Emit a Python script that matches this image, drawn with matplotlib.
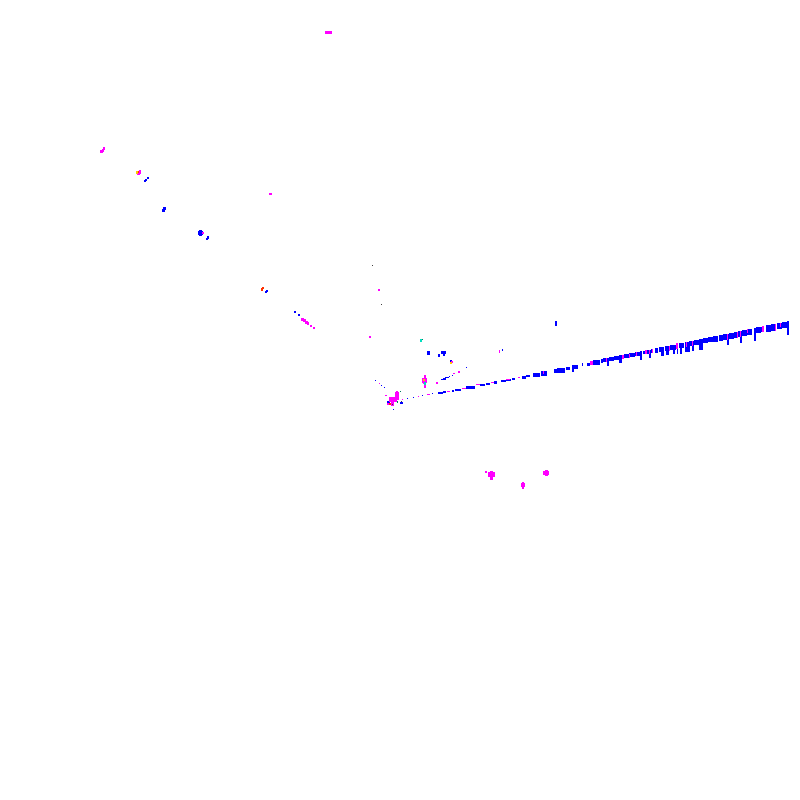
import matplotlib
matplotlib.use("Agg")
import matplotlib.pyplot as plt
import numpy as np

# each block: x_lo, x_hi, y_lo, y_hi
blue_far_streak = [
    (601, 603, 359, 363), (603, 609, 358, 362), (607, 609, 360, 366), (609, 614, 357, 361),
    (614, 619, 356, 360), (619, 622, 355, 363), (624, 629, 354, 358), (629, 635, 353, 357),
    (635, 640, 352, 356), (640, 642, 351, 360), (643, 645, 351, 354), (645, 650, 350, 354),
    (649, 651, 350, 358), (651, 653, 349, 353), (655, 658, 348, 353), (659, 664, 347, 352),
    (661, 664, 350, 356), (665, 670, 346, 351), (666, 669, 350, 355), (670, 676, 345, 350),
    (673, 675, 349, 354), (677, 678, 344, 354), (679, 684, 343, 348), (680, 682, 347, 354),
    (685, 690, 342, 352), (689, 694, 341, 346), (692, 694, 345, 351), (694, 699, 340, 345),
    (699, 703, 339, 350), (703, 708, 338, 343), (708, 713, 337, 342), (713, 718, 336, 342),
    (719, 723, 335, 341), (723, 727, 334, 340), (727, 729, 334, 345), (729, 734, 333, 339),
    (734, 738, 332, 338), (738, 742, 331, 337), (740, 742, 336, 343), (742, 747, 330, 336),
    (747, 752, 329, 335), (754, 756, 328, 341), (756, 761, 327, 333), (761, 764, 327, 332),
    (766, 771, 325, 332), (771, 775, 324, 331), (777, 782, 323, 329), (782, 787, 322, 328),
    (787, 789, 321, 335),
]
blue_near_streak = [
    (407, 408, 398, 399), (413, 414, 397, 398), (422, 423, 395, 396), (432, 433, 393, 394),
    (438, 443, 392, 394), (443, 446, 391, 393), (452, 454, 390, 392), (455, 461, 389, 391),
    (466, 475, 386, 389), (480, 485, 384, 386), (486, 490, 383, 385), (494, 497, 381, 384),
    (501, 506, 380, 382), (506, 511, 379, 381), (512, 515, 378, 380), (522, 526, 376, 379),
    (526, 530, 375, 377), (533, 540, 373, 377), (541, 547, 371, 376), (554, 557, 369, 373),
    (557, 565, 368, 373), (566, 570, 367, 370), (572, 574, 365, 372), (574, 578, 365, 369),
    (582, 583, 363, 366), (587, 590, 363, 366), (593, 600, 360, 365),
]
blue_scattered = [
    (466, 467, 367, 368), (452, 453, 375, 376), (449, 450, 376, 377), (445, 449, 377, 378),
    (443, 446, 378, 380), (441, 443, 379, 380), (425, 426, 387, 388), (375, 376, 380, 381),
    (381, 382, 385, 386), (384, 385, 387, 388), (393, 394, 409, 410), (400, 403, 402, 404),
    (387, 390, 401, 403), (427, 430, 351, 355), (441, 446, 351, 354), (443, 445, 353, 356),
    (438, 440, 354, 357), (450, 452, 360, 362), (502, 503, 349, 351), (555, 557, 321, 326),
    (144, 146, 180, 182), (145, 147, 179, 181), (147, 149, 177, 179), (162, 165, 209, 212),
    (163, 166, 207, 210), (198, 203, 231, 235), (199, 202, 230, 236), (206, 208, 238, 240),
    (207, 209, 236, 239), (265, 267, 291, 293), (266, 268, 290, 292), (294, 296, 311, 313),
    (298, 300, 314, 316), (491, 493, 471, 473),
]
magenta_blocks = [
    # stripes on the far streak
    (606, 607, 358, 362), (622, 624, 355, 359), (629, 630, 354, 358), (636, 637, 352, 356),
    (645, 647, 350, 354), (649, 650, 350, 354), (652, 653, 349, 353), (669, 670, 346, 351),
    (676, 678, 343, 349), (686, 687, 342, 347), (692, 693, 341, 346), (727, 728, 334, 340),
    (737, 738, 332, 338), (740, 741, 331, 337), (747, 748, 329, 333), (762, 764, 326, 332),
    (775, 776, 324, 331), (780, 781, 323, 327),
    # near streak
    (418, 419, 396, 397), (427, 430, 394, 395), (447, 450, 391, 392), (462, 466, 388, 389),
    (476, 480, 384, 385), (491, 494, 382, 383), (506, 510, 379, 380), (518, 520, 377, 378),
    (543, 544, 371, 374), (590, 593, 361, 365),
    # second arm and small dots
    (458, 460, 371, 373), (453, 455, 373, 374), (436, 438, 382, 384), (379, 380, 383, 384),
    (499, 500, 350, 353), (369, 371, 336, 338), (378, 380, 289, 291), (269, 272, 193, 195),
    (325, 332, 31, 34),
    # main knot
    (395, 399, 392, 397), (396, 398, 391, 393), (389, 397, 397, 402), (391, 394, 402, 406),
    (387, 390, 403, 405), (397, 399, 396, 400), (402, 403, 399, 400), (385, 387, 395, 396),
    # knot near 425,380
    (422, 427, 378, 383), (424, 426, 375, 388), (423, 424, 381, 384), (451, 453, 361, 363),
    # bottom clumps
    (485, 487, 471, 473), (488, 495, 472, 477), (490, 493, 471, 480), (521, 525, 483, 487),
    (522, 524, 482, 489), (543, 549, 471, 475), (545, 548, 470, 476),
    # upper left diagonal
    (100, 103, 150, 153), (102, 104, 149, 152), (103, 105, 147, 150), (137, 140, 172, 175),
    (139, 141, 170, 174), (202, 204, 232, 234),
    (301, 304, 318, 321), (303, 306, 319, 322), (305, 308, 321, 324), (307, 309, 322, 325),
    (310, 312, 325, 327), (313, 315, 327, 329),
]
red_blocks = [(261, 263, 288, 291), (262, 264, 287, 289), (136, 139, 171, 173), (389, 391, 403, 405)]
yellow_blocks = [(423, 425, 379, 381), (450, 452, 362, 364), (136, 138, 171, 174)]
cyan_blocks = [(420, 422, 339, 342), (424, 426, 382, 385)]
teal_blocks = [(422, 423, 339, 340), (400, 401, 391, 392), (397, 398, 401, 403)]
black_dots = [(372, 373, 265, 266), (381, 382, 304, 305), (401, 402, 401, 402), (392, 393, 404, 405)]


def draw_blocks(ax, blocks, color):
    x_lo, x_hi, y_lo, y_hi = np.array(blocks, dtype=float).T
    ax.bar(x_lo, y_hi - y_lo, width=x_hi - x_lo, bottom=y_lo, align="edge",
           color=color, linewidth=0, antialiased=False)


fig = plt.figure(figsize=(8, 8), dpi=100, facecolor="white")
ax = fig.add_axes([0, 0, 1, 1])

draw_blocks(ax, blue_far_streak, "#0000ff")
draw_blocks(ax, blue_near_streak, "#0000ff")
draw_blocks(ax, blue_scattered, "#0000ff")
draw_blocks(ax, magenta_blocks, "#ff00ff")
draw_blocks(ax, red_blocks, "#ff3000")
draw_blocks(ax, yellow_blocks, "#ffc800")
draw_blocks(ax, cyan_blocks, "#00e0c0")
draw_blocks(ax, teal_blocks, "#008060")
draw_blocks(ax, black_dots, "#404040")

ax.set_xlim(0, 800)
ax.set_ylim(800, 0)
ax.axis("off")

fig.savefig("out.png", dpi=100, facecolor="white")
